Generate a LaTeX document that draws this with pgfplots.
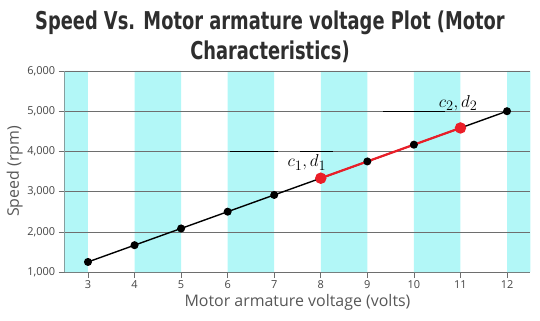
\documentclass[border=0pt]{standalone}
\usepackage{pgfplots}
\pgfplotsset{compat=1.18}
\usepackage{fontspec}
\setmainfont{Open Sans}
\newfontfamily\titlefont{DejaVu Sans Condensed}
\definecolor{band}{HTML}{B2F7F7}
\definecolor{tickgray}{HTML}{444444}
\definecolor{gridgray}{HTML}{6E6E6E}
\begin{document}
\begin{tikzpicture}
\path[use as bounding box] (-64.7bp,-49bp) rectangle (475.3bp,272bp);
\begin{axis}[
  scale only axis, width=465.6bp, height=201bp,
  xmin=2.5, xmax=12.5, ymin=1000, ymax=6000,
  xtick={3,...,12}, ytick={1000,2000,...,6000},
  axis x line*=bottom, axis y line*=left,
  axis line style={gridgray, line width=0.8pt, -},
  tick style={gridgray, line width=0.6pt},
  tick align=outside,
  major tick length=6bp,
  ymajorgrids, grid style={gridgray, line width=0.6pt},
  /pgf/number format/assume math mode=true,
  /pgf/number format/1000 sep={,},
  scaled y ticks=false,
  ticklabel style={font=\fontsize{11}{12}\selectfont, text=tickgray},
  xticklabel style={yshift=1bp},
  xlabel={Motor armature voltage (volts)},
  ylabel={Speed (rpm)},
  label style={font=\fontsize{16}{18}\selectfont, text=tickgray!90},
  xlabel style={at={(axis description cs:0.5,0)}, anchor=center, yshift=-30bp},
  every axis y label/.append style={at={(-50bp,100.5bp)}, anchor=center},
  clip=false,
]
\addplot[draw=none, fill=band] coordinates {(2.5,1000) (2.5,6000) (3,6000) (3,1000)} \closedcycle;
\addplot[draw=none, fill=band] coordinates {(4,1000) (4,6000) (5,6000) (5,1000)} \closedcycle;
\addplot[draw=none, fill=band] coordinates {(6,1000) (6,6000) (7,6000) (7,1000)} \closedcycle;
\addplot[draw=none, fill=band] coordinates {(8,1000) (8,6000) (9,6000) (9,1000)} \closedcycle;
\addplot[draw=none, fill=band] coordinates {(10,1000) (10,6000) (11,6000) (11,1000)} \closedcycle;
\addplot[draw=none, fill=band] coordinates {(12,1000) (12,6000) (12.5,6000) (12.5,1000)} \closedcycle;
\addplot[gridgray, line width=0.6pt, forget plot] coordinates {(2.5,2000) (12.5,2000)};
\addplot[gridgray, line width=0.6pt, forget plot] coordinates {(2.5,3000) (12.5,3000)};
\addplot[gridgray, line width=0.6pt, forget plot] coordinates {(2.5,4000) (12.5,4000)};
\addplot[gridgray, line width=0.6pt, forget plot] coordinates {(2.5,5000) (12.5,5000)};
\addplot[gridgray, line width=0.6pt, forget plot] coordinates {(2.5,6000) (12.5,6000)};
\addplot[black, line width=0.9pt, forget plot] coordinates {(6.05,4000) (7.08,4000)};
\addplot[black, line width=0.9pt, forget plot] coordinates {(7.55,4000) (8.27,4000)};
\addplot[black, line width=0.9pt, forget plot] coordinates {(9.34,5000) (10.67,5000)};
\addplot[black, line width=1.4pt, mark=*, mark size=3.3pt] coordinates {
(3,1250) (4,1667) (5,2083) (6,2500) (7,2917) (8,3333) (9,3750) (10,4167) (11,4583) (12,5000)};
\addplot[color={rgb,255:red,235;green,30;blue,40}, line width=2.2pt, mark=*, mark size=4.6pt, mark indices={1,4}] coordinates {
(8,3333) (9,3750) (10,4167) (11,4583)};
\node[font=\fontsize{19}{21}\selectfont] at (axis cs:7.7,3720) {$c_1, d_1$};
\node[font=\fontsize{19}{21}\selectfont] at (axis cs:10.95,5200) {$c_2, d_2$};
\end{axis}
\node[text=black!82, align=center, inner sep=0pt] at (205.3bp,235bp) {\scalebox{0.905}[1.12]{\titlefont\bfseries\fontsize{22}{28}\selectfont Speed Vs. Motor armature voltage Plot (Motor}\\[5bp]\scalebox{0.905}[1.12]{\titlefont\bfseries\fontsize{22}{28}\selectfont Characteristics)}};
\end{tikzpicture}
\end{document}
